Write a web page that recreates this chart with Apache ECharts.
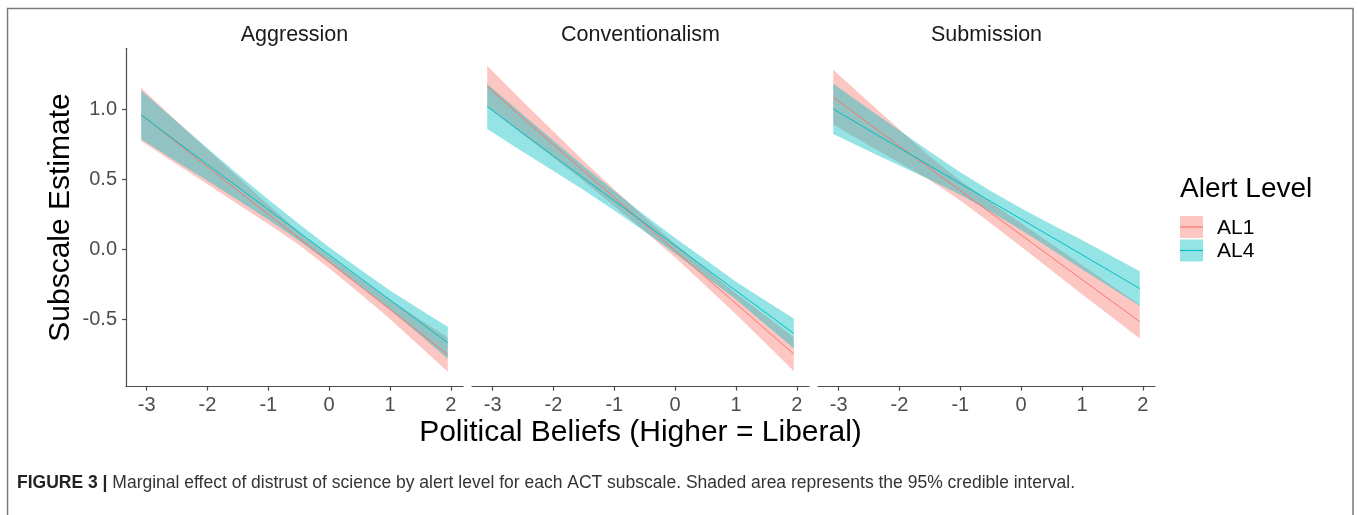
<!DOCTYPE html>
<html><head><meta charset="utf-8">
<script src="https://cdn.jsdelivr.net/npm/echarts@6/dist/echarts.min.js"></script>
<style>html,body{margin:0;padding:0;background:#fff}#c{width:1358px;height:515px}</style>
</head><body><div id="c"></div>
<script>
// ---- data ----
const panels = ['Aggression', 'Conventionalism', 'Submission'];
const groups = ['AL1', 'AL4'];
const xValues = [-3.09, -2.5, -2, -1.5, -1, -0.5, 0, 0.5, 1, 1.5, 1.95];
const xTicks = [-3, -2, -1, 0, 1, 2];
const yTicks = [-0.5, 0, 0.5, 1.0];
const yTickLabels = ['-0.5', '0.0', '0.5', '1.0'];

// Aggression
const aggAL1Est = [0.965, 0.761, 0.590, 0.420, 0.250, 0.080, -0.091, -0.261, -0.431, -0.602, -0.755];
const aggAL1Lo  = [0.775, 0.607, 0.465, 0.323, 0.181, 0.032, -0.136, -0.316, -0.500, -0.699, -0.877];
const aggAL1Hi  = [1.155, 0.915, 0.715, 0.517, 0.319, 0.128, -0.046, -0.206, -0.362, -0.505, -0.633];
const aggAL4Est = [0.963, 0.769, 0.607, 0.445, 0.284, 0.122, -0.040, -0.202, -0.363, -0.525, -0.670];
const aggAL4Lo  = [0.788, 0.626, 0.490, 0.353, 0.212, 0.062, -0.095, -0.262, -0.431, -0.617, -0.784];
const aggAL4Hi  = [1.138, 0.912, 0.724, 0.537, 0.356, 0.182, 0.015, -0.142, -0.295, -0.433, -0.556];
// Conventionalism
const conAL1Est = [1.167, 0.939, 0.749, 0.559, 0.369, 0.179, -0.010, -0.200, -0.390, -0.580, -0.751];
const conAL1Lo  = [1.019, 0.821, 0.655, 0.488, 0.309, 0.129, -0.060, -0.262, -0.465, -0.679, -0.872];
const conAL1Hi  = [1.315, 1.057, 0.843, 0.630, 0.429, 0.229, 0.040, -0.138, -0.315, -0.481, -0.630];
const conAL4Est = [1.023, 0.830, 0.669, 0.508, 0.347, 0.186, 0.025, -0.136, -0.297, -0.458, -0.603];
const conAL4Lo  = [0.861, 0.697, 0.560, 0.422, 0.277, 0.128, -0.030, -0.196, -0.361, -0.544, -0.709];
const conAL4Hi  = [1.185, 0.963, 0.778, 0.594, 0.417, 0.244, 0.080, -0.076, -0.233, -0.372, -0.497];
// Submission
const subAL1Est = [1.090, 0.899, 0.739, 0.580, 0.420, 0.261, 0.102, -0.058, -0.217, -0.376, -0.519];
const subAL1Lo  = [0.894, 0.744, 0.619, 0.495, 0.350, 0.186, 0.017, -0.153, -0.322, -0.489, -0.639];
const subAL1Hi  = [1.286, 1.054, 0.859, 0.665, 0.490, 0.336, 0.187, 0.037, -0.112, -0.263, -0.399];
const subAL4Est = [1.006, 0.853, 0.726, 0.598, 0.471, 0.343, 0.216, 0.088, -0.039, -0.167, -0.282];
const subAL4Lo  = [0.826, 0.703, 0.601, 0.498, 0.391, 0.268, 0.138, -0.002, -0.144, -0.282, -0.406];
const subAL4Hi  = [1.186, 1.003, 0.851, 0.698, 0.551, 0.418, 0.294, 0.178, 0.066, -0.052, -0.158];

const panelData = [
  {AL1: {est: aggAL1Est, lo: aggAL1Lo, hi: aggAL1Hi}, AL4: {est: aggAL4Est, lo: aggAL4Lo, hi: aggAL4Hi}},
  {AL1: {est: conAL1Est, lo: conAL1Lo, hi: conAL1Hi}, AL4: {est: conAL4Est, lo: conAL4Lo, hi: conAL4Hi}},
  {AL1: {est: subAL1Est, lo: subAL1Lo, hi: subAL1Hi}, AL4: {est: subAL4Est, lo: subAL4Lo, hi: subAL4Hi}}
];

// ---- styling ----
const FONT = '"Liberation Sans", Arial, Helvetica, sans-serif';
const lineColors = {AL1: '#F8766D', AL4: '#00BFC4'};
const bandColors = {AL1: 'rgba(248,118,109,0.42)', AL4: 'rgba(0,191,196,0.42)'};
const gridLefts = [126, 472, 818];
const gridW = 337, gridTop = 48.3, gridH = 338.4;
const AXIS_COL = '#4d4d4d';

const grids = gridLefts.map(l => ({left: l, top: gridTop, width: gridW, height: gridH}));
const xAxes = gridLefts.map((l, i) => ({
  type: 'value', gridIndex: i, min: -3.34, max: 2.2,
  splitLine: {show: false},
  axisLine: {show: true, onZero: false, lineStyle: {color: AXIS_COL, width: 1.2}},
  axisTick: {show: true, length: 4, customValues: xTicks, lineStyle: {color: AXIS_COL, width: 1.2}},
  axisLabel: {customValues: xTicks, margin: 9, fontSize: 20, color: '#4d4d4d', fontFamily: FONT}
}));
const yAxes = gridLefts.map((l, i) => ({
  type: 'value', gridIndex: i, min: -0.985, max: 1.44,
  splitLine: {show: false},
  axisLine: {show: i === 0, onZero: false, lineStyle: {color: AXIS_COL, width: 1.2}},
  axisTick: {show: i === 0, length: 4, customValues: yTicks, lineStyle: {color: AXIS_COL, width: 1.2}},
  axisLabel: {show: i === 0, customValues: yTicks, margin: 9, fontSize: 20, color: '#4d4d4d', fontFamily: FONT,
    formatter: v => yTickLabels[yTicks.findIndex(t => Math.abs(t - v) < 1e-9)]}
}));

const series = [];
panelData.forEach((pd, p) => {
  groups.forEach(g => {
    const d = pd[g];
    series.push({
      type: 'custom', xAxisIndex: p, yAxisIndex: p, silent: true,
      data: xValues.map((x, k) => [x, d.lo[k], d.hi[k]]),
      encode: {x: 0, y: [1, 2]},
      clip: true,
      renderItem: (params, api) => {
        if (params.dataIndex !== 0) return null;
        const pts = [];
        for (let k = 0; k < xValues.length; k++) pts.push(api.coord([xValues[k], d.hi[k]]));
        for (let k = xValues.length - 1; k >= 0; k--) pts.push(api.coord([xValues[k], d.lo[k]]));
        return {type: 'polygon', shape: {points: pts}, style: {fill: bandColors[g], stroke: null}};
      }
    });
  });
  groups.forEach(g => {
    const d = pd[g];
    series.push({
      type: 'line', xAxisIndex: p, yAxisIndex: p, name: g,
      data: xValues.map((x, k) => [x, d.est[k]]),
      symbol: 'none', lineStyle: {color: lineColors[g], width: 1}, silent: true
    });
  });
});

const graphic = [
  {type: 'rect', silent: true, shape: {x: 7.5, y: 8.5, width: 1345.5, height: 520},
   style: {fill: 'none', stroke: '#7a7a7a', lineWidth: 1.5}},
  ...panels.map((t, i) => ({type: 'text', x: gridLefts[i] + gridW / 2, y: 35,
    style: {text: t, fontSize: 21.5, fontFamily: FONT, fill: '#1a1a1a', align: 'center', verticalAlign: 'middle'}})),
  {type: 'text', x: 61, y: 217.5, rotation: Math.PI / 2,
   style: {text: 'Subscale Estimate', fontSize: 30, fontFamily: FONT, fill: '#000', align: 'center', verticalAlign: 'middle'}},
  {type: 'text', x: 640.5, y: 433,
   style: {text: 'Political Beliefs (Higher = Liberal)', fontSize: 30, fontFamily: FONT, fill: '#000', align: 'center', verticalAlign: 'middle'}},
  {type: 'text', x: 1180, y: 189,
   style: {text: 'Alert Level', fontSize: 28, fontFamily: FONT, fill: '#000', align: 'left', verticalAlign: 'middle'}},
  ...groups.map((g, i) => ({type: 'rect', silent: true, shape: {x: 1180, y: 216 + i * 23.5, width: 23, height: 22},
    style: {fill: bandColors[g]}})),
  ...groups.map((g, i) => ({type: 'line', silent: true, shape: {x1: 1180, y1: 227 + i * 23.5, x2: 1203, y2: 227 + i * 23.5},
    style: {stroke: lineColors[g], lineWidth: 1.2}})),
  ...groups.map((g, i) => ({type: 'text', x: 1217, y: 228 + i * 23.5,
    style: {text: g, fontSize: 21, fontFamily: FONT, fill: '#000', align: 'left', verticalAlign: 'middle'}})),
  {type: 'text', x: 17, y: 483,
   style: {text: '{b|FIGURE 3 |} Marginal effect of distrust of science by alert level for each ACT subscale. Shaded area represents the 95% credible interval.',
     fontSize: 17.5, fontFamily: FONT, fill: '#333', align: 'left', verticalAlign: 'middle',
     rich: {b: {fontSize: 17.5, fontWeight: 'bold', fontFamily: FONT, fill: '#222'}}}}
];

const chart = echarts.init(document.getElementById('c'), null, {renderer: 'canvas'});
chart.setOption({
  animation: false,
  backgroundColor: '#fff',
  grid: grids, xAxis: xAxes, yAxis: yAxes, series, graphic
});
</script></body></html>
